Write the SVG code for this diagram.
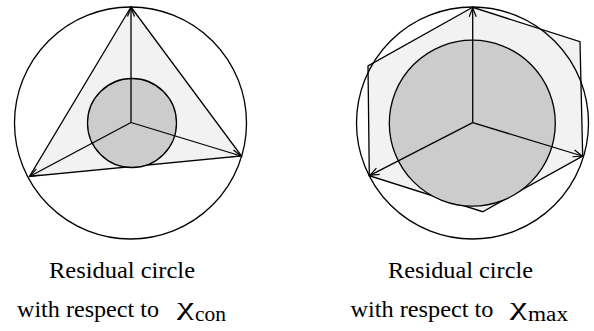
<svg xmlns="http://www.w3.org/2000/svg" width="594" height="331" viewBox="0 0 594 331">
<defs>
<marker id="ah" markerUnits="userSpaceOnUse" markerWidth="14" markerHeight="14" refX="10" refY="7" orient="auto">
<path d="M1,3.5 L10,7 L1,10.5" fill="none" stroke="#000" stroke-width="1.2"/>
</marker>
<style>
.ln{fill:none;stroke:#000;stroke-width:1.3}
.poly{fill:#f2f2f2;stroke:#000;stroke-width:1.3;stroke-linejoin:miter}
.res{fill:#cccccc;stroke:#000;stroke-width:1.3}
.arr{fill:none;stroke:#000;stroke-width:1.3;marker-end:url(#ah)}
.t{font-family:'Liberation Serif','Times New Roman',serif;font-size:24px;fill:#000}
.chi{font-size:26px}
.sub{font-size:20px}
</style>
</defs>
<rect width="594" height="331" fill="#fff"/>
<g id="left-diagram">
<circle class="ln" cx="130.5" cy="123" r="116"/>
<polygon class="poly" points="131,7 29.5,176.5 241.5,156"/>
<circle class="res" cx="132" cy="123" r="44.5"/>
</g>
<g id="right-diagram">
<polygon class="poly" points="472.7,7.3 368,66 369.3,175.7 482.7,211.7 582.7,156 580,41.7"/>
<circle class="ln" cx="472.5" cy="123" r="116"/>
<circle class="res" cx="472.3" cy="123.2" r="83"/>
</g>
<g id="connectors">
<line class="arr" x1="131" y1="122.5" x2="131" y2="7.5"/>
<line class="arr" x1="131" y1="122.5" x2="30" y2="176.2"/>
<line class="arr" x1="131" y1="122.5" x2="241" y2="156"/>
<line class="arr" x1="472.7" y1="122.7" x2="472.7" y2="7.8"/>
<line class="arr" x1="472.7" y1="122.7" x2="370" y2="175.3"/>
<line class="arr" x1="472.7" y1="122.7" x2="582.2" y2="156"/>
</g>
<g id="label-left">
<text class="t" x="49" y="277.5" textLength="146" lengthAdjust="spacingAndGlyphs">Residual circle</text>
<text class="t" x="17" y="317" textLength="142" lengthAdjust="spacingAndGlyphs">with respect to</text>
<text class="t chi" x="177" y="315" textLength="17" lengthAdjust="spacingAndGlyphs">χ</text>
<text class="t sub" x="195" y="321" textLength="31" lengthAdjust="spacingAndGlyphs">con</text>
</g>
<g id="label-right">
<text class="t" x="388" y="277.5" textLength="145" lengthAdjust="spacingAndGlyphs">Residual circle</text>
<text class="t" x="350.5" y="317" textLength="143" lengthAdjust="spacingAndGlyphs">with respect to</text>
<text class="t chi" x="510" y="315" textLength="17" lengthAdjust="spacingAndGlyphs">χ</text>
<text class="t sub" x="528" y="321" textLength="40" lengthAdjust="spacingAndGlyphs">max</text>
</g>
</svg>
